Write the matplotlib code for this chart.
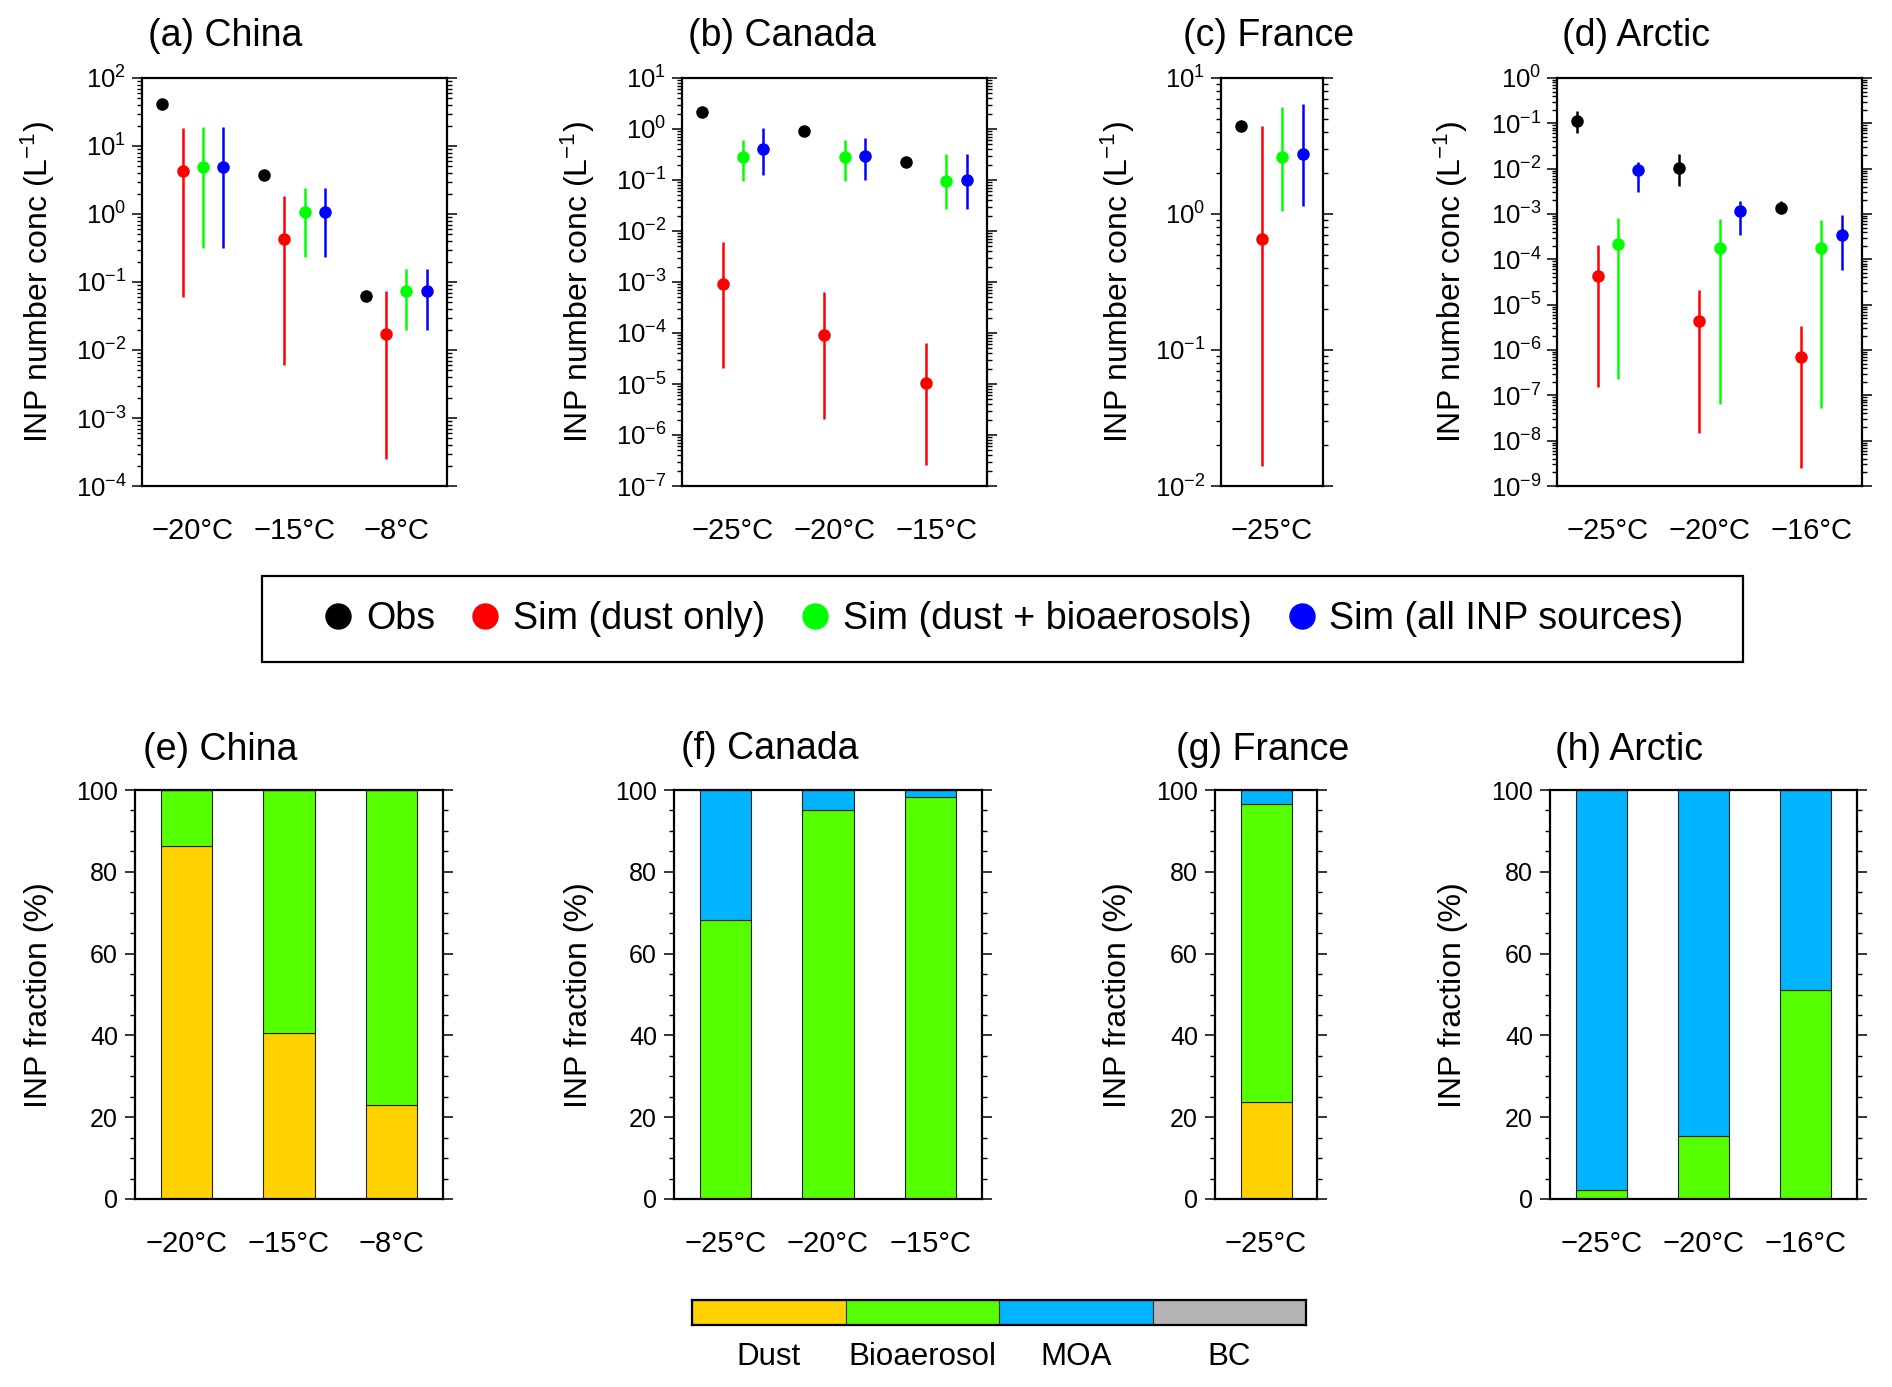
import numpy as np
import matplotlib
matplotlib.use("Agg")
import matplotlib.pyplot as plt
from matplotlib.ticker import LogLocator, LogFormatterMathtext, MultipleLocator, NullFormatter
from matplotlib.lines import Line2D
from matplotlib.patches import Rectangle

plt.rcParams['font.family'] = ['Liberation Sans', 'DejaVu Sans']
plt.rcParams['mathtext.fontset'] = 'custom'
plt.rcParams['mathtext.rm'] = 'Liberation Sans'
plt.rcParams['mathtext.it'] = 'Liberation Sans:italic'
plt.rcParams['mathtext.bf'] = 'Liberation Sans:bold'

# ---------------- data ----------------
china_temps = ["\u221220\u00b0C", "\u221215\u00b0C", "\u22128\u00b0C"]
china_obs = [42.0, 3.8, 0.063]
china_dust = [4.3, 0.43, 0.017]
china_dust_lo = [0.061, 0.0061, 2.5e-4]
china_dust_hi = [18.5, 1.85, 0.073]
china_bio = [4.9, 1.06, 0.074]
china_bio_lo = [0.32, 0.23, 0.020]
china_bio_hi = [18.8, 2.4, 0.155]
china_all = [4.9, 1.06, 0.074]
china_all_lo = [0.32, 0.23, 0.020]
china_all_hi = [18.8, 2.4, 0.155]

canada_temps = ["\u221225\u00b0C", "\u221220\u00b0C", "\u221215\u00b0C"]
canada_obs = [2.13, 0.93, 0.226]
canada_dust = [9.1e-4, 9.3e-5, 1.03e-5]
canada_dust_lo = [2.1e-5, 2.1e-6, 2.6e-7]
canada_dust_hi = [6.2e-3, 6.3e-4, 6.4e-5]
canada_bio = [0.283, 0.28, 0.094]
canada_bio_lo = [0.094, 0.094, 0.027]
canada_bio_hi = [0.62, 0.62, 0.317]
canada_all = [0.41, 0.29, 0.098]
canada_all_lo = [0.124, 0.098, 0.027]
canada_all_hi = [1.04, 0.665, 0.32]

france_temps = ["\u221225\u00b0C"]
france_obs = [4.4]
france_dust = [0.65]
france_dust_lo = [0.014]
france_dust_hi = [4.45]
france_bio = [2.63]
france_bio_lo = [1.05]
france_bio_hi = [6.17]
france_all = [2.74]
france_all_lo = [1.15]
france_all_hi = [6.4]

arctic_temps = ["\u221225\u00b0C", "\u221220\u00b0C", "\u221216\u00b0C"]
arctic_obs = [0.115, 0.0103, 1.36e-3]
arctic_obs_lo = [0.060, 4.2e-3, 1.03e-3]
arctic_obs_hi = [0.188, 0.0213, 1.9e-3]
arctic_dust = [4.2e-5, 4.4e-6, 6.9e-7]
arctic_dust_lo = [1.5e-7, 1.5e-8, 2.5e-9]
arctic_dust_hi = [2.1e-4, 2.1e-5, 3.3e-6]
arctic_bio = [2.2e-4, 1.8e-4, 1.77e-4]
arctic_bio_lo = [2.3e-7, 6.5e-8, 5.2e-8]
arctic_bio_hi = [8.3e-4, 7.7e-4, 7.4e-4]
arctic_all = [9.3e-3, 1.17e-3, 3.4e-4]
arctic_all_lo = [3.1e-3, 3.5e-4, 5.9e-5]
arctic_all_hi = [0.0143, 1.9e-3, 9.4e-4]

# fractions (%)
china_frac_dust = [86.4, 40.6, 23.1]
china_frac_bio = [13.6, 59.4, 76.9]
china_frac_moa = [0.0, 0.0, 0.0]
china_frac_bc = [0.0, 0.0, 0.0]
canada_frac_dust = [0.0, 0.0, 0.0]
canada_frac_bio = [68.2, 95.0, 98.3]
canada_frac_moa = [31.8, 5.0, 1.7]
canada_frac_bc = [0.0, 0.0, 0.0]
france_frac_dust = [23.8]
france_frac_bio = [72.7]
france_frac_moa = [3.5]
france_frac_bc = [0.0]
arctic_frac_dust = [0.0, 0.0, 0.0]
arctic_frac_bio = [2.1, 15.4, 51.0]
arctic_frac_moa = [97.9, 84.6, 49.0]
arctic_frac_bc = [0.0, 0.0, 0.0]

species_names = ["Dust", "Bioaerosol", "MOA", "BC"]
species_colors = ["#FFD200", "#55FF00", "#00B4FF", "#B4B4B4"]
legend_labels = ["Obs", "Sim (dust only)", "Sim (dust + bioaerosols)", "Sim (all INP sources)"]
legend_colors = ["#000000", "#FF0000", "#00FF00", "#0000FF"]

# ---------------- layout ----------------
W, H = 1892, 1387
fig = plt.figure(figsize=(W / 100, H / 100), dpi=100)


def rect(l, r, t, b):
    return [l / W, 1 - b / H, (r - l) / W, (b - t) / H]


def style_axis(ax):
    for s in ax.spines.values():
        s.set_linewidth(1.6)
    ax.tick_params(axis='x', which='both', length=0, pad=22, labelsize=21)
    ax.tick_params(axis='y', which='major', direction='out', left=True, right=True,
                   labelright=False, length=7.2, width=1.1)
    ax.tick_params(axis='y', which='minor', direction='out', left=True, right=True,
                   length=3.6, width=1.0)


def conc_panel(ax, temps, obs, dust, dlo, dhi, bio, blo, bhi, al, alo, ahi, ylim,
               obs_lo=None, obs_hi=None):
    n = len(temps)
    g = np.arange(n) * 5
    ms = 8
    if obs_lo is None:
        ax.plot(g + 1, obs, 'o', color='k', ms=ms, clip_on=False, zorder=3)
    else:
        o = np.array(obs)
        ax.errorbar(g + 1, o, yerr=[o - np.array(obs_lo), np.array(obs_hi) - o], fmt='o',
                    color='k', ms=ms, elinewidth=1.8, capsize=0, zorder=3)
    for off, v, lo, hi, c in [(2, dust, dlo, dhi, '#FF0000'), (3, bio, blo, bhi, '#00FF00'),
                              (4, al, alo, ahi, '#0000FF')]:
        v = np.array(v)
        ax.errorbar(g + off, v, yerr=[v - np.array(lo), np.array(hi) - v], fmt='o', color=c,
                    ms=ms, elinewidth=1.8, capsize=0, zorder=3)
    ax.set_yscale('log')
    ax.set_ylim(*ylim)
    ax.set_xlim(0, 5 * n)
    ax.set_xticks(g + 2.5)
    ax.set_xticklabels(temps)
    ax.yaxis.set_major_locator(LogLocator(base=10, numticks=100))
    ax.yaxis.set_major_formatter(LogFormatterMathtext())
    ax.yaxis.set_minor_locator(LogLocator(base=10, subs=np.arange(2, 10), numticks=100))
    ax.yaxis.set_minor_formatter(NullFormatter())
    style_axis(ax)
    ax.tick_params(axis='y', which='major', labelsize=18.5, pad=4)


def frac_panel(ax, temps, fd, fb, fm, fc):
    n = len(temps)
    x = np.arange(n) + 0.5
    bottom = np.zeros(n)
    for vals, c in zip([fd, fb, fm, fc], species_colors):
        vals = np.array(vals)
        ax.bar(x, vals, width=0.5, bottom=bottom, color=c, edgecolor='#222222', linewidth=0.8)
        bottom = bottom + vals
    ax.set_xlim(0, n)
    ax.set_ylim(0, 100)
    ax.set_xticks(x)
    ax.set_xticklabels(temps)
    ax.yaxis.set_major_locator(MultipleLocator(20))
    ax.yaxis.set_minor_locator(MultipleLocator(5))
    style_axis(ax)
    ax.tick_params(axis='y', which='major', labelsize=18, pad=5)


top_t, top_b = 78, 486
bot_t, bot_b = 790, 1199

axa = fig.add_axes(rect(142, 447, top_t, top_b))
axb = fig.add_axes(rect(682, 987, top_t, top_b))
axc = fig.add_axes(rect(1221, 1323, top_t, top_b))
axd = fig.add_axes(rect(1557, 1862, top_t, top_b))

conc_panel(axa, china_temps, china_obs, china_dust, china_dust_lo, china_dust_hi,
           china_bio, china_bio_lo, china_bio_hi, china_all, china_all_lo, china_all_hi, (1e-4, 1e2))
conc_panel(axb, canada_temps, canada_obs, canada_dust, canada_dust_lo, canada_dust_hi,
           canada_bio, canada_bio_lo, canada_bio_hi, canada_all, canada_all_lo, canada_all_hi, (1e-7, 1e1))
conc_panel(axc, france_temps, france_obs, france_dust, france_dust_lo, france_dust_hi,
           france_bio, france_bio_lo, france_bio_hi, france_all, france_all_lo, france_all_hi, (1e-2, 1e1))
conc_panel(axd, arctic_temps, arctic_obs, arctic_dust, arctic_dust_lo, arctic_dust_hi,
           arctic_bio, arctic_bio_lo, arctic_bio_hi, arctic_all, arctic_all_lo, arctic_all_hi, (1e-9, 1e0),
           obs_lo=arctic_obs_lo, obs_hi=arctic_obs_hi)

axe = fig.add_axes(rect(135, 443, bot_t, bot_b))
axf = fig.add_axes(rect(674, 982, bot_t, bot_b))
axg = fig.add_axes(rect(1215, 1317, bot_t, bot_b))
axh = fig.add_axes(rect(1550, 1857, bot_t, bot_b))

frac_panel(axe, china_temps, china_frac_dust, china_frac_bio, china_frac_moa, china_frac_bc)
frac_panel(axf, canada_temps, canada_frac_dust, canada_frac_bio, canada_frac_moa, canada_frac_bc)
frac_panel(axg, france_temps, france_frac_dust, france_frac_bio, france_frac_moa, france_frac_bc)
frac_panel(axh, arctic_temps, arctic_frac_dust, arctic_frac_bio, arctic_frac_moa, arctic_frac_bc)

# titles
titles = [("(a) China", 148, 36), ("(b) Canada", 688, 36), ("(c) France", 1183, 36),
          ("(d) Arctic", 1562, 36), ("(e) China", 143, 750), ("(f) Canada", 681, 749),
          ("(g) France", 1176, 750), ("(h) Arctic", 1555, 750)]
for t, x, y in titles:
    fig.text(x / W, 1 - y / H, t, ha='left', va='center', fontsize=27)

# y labels
for x in [38, 578, 1118, 1451]:
    fig.text(x / W, 1 - 282 / H, "INP number conc (L$^{\u22121}$)", rotation=90,
             ha='center', va='center', fontsize=23)
for x in [39, 579, 1118, 1453]:
    fig.text(x / W, 1 - 995 / H, "INP fraction (%)", rotation=90,
             ha='center', va='center', fontsize=23)

# legend box and legend
fig.add_artist(Rectangle((262 / W, 1 - 662 / H), (1743 - 262) / W, (662 - 576) / H,
                         transform=fig.transFigure, fill=False, lw=1.6, ec='k'))
handles = [Line2D([], [], marker='o', linestyle='none', color=c, markersize=18) for c in legend_colors]
fig.legend(handles, legend_labels, loc='center', bbox_to_anchor=(1004 / W, 1 - 619 / H),
           ncol=4, frameon=False, fontsize=27.2, handlelength=0.75, handletextpad=0.35,
           columnspacing=0.96, borderpad=0, borderaxespad=0)

# species color bar
axcb = fig.add_axes(rect(692, 1306, 1300, 1325))
axcb.bar(np.arange(len(species_names)), [1] * len(species_names), width=1, align='edge',
         color=species_colors, edgecolor='#333333', linewidth=0.8)
axcb.set_xlim(0, len(species_names))
axcb.set_ylim(0, 1)
axcb.set_yticks([])
axcb.set_xticks(np.arange(len(species_names)) + 0.5)
axcb.set_xticklabels(species_names)
axcb.tick_params(axis='x', length=0, pad=12, labelsize=22.5)
for s in axcb.spines.values():
    s.set_linewidth(1.6)

fig.savefig("out.png", dpi=100)
